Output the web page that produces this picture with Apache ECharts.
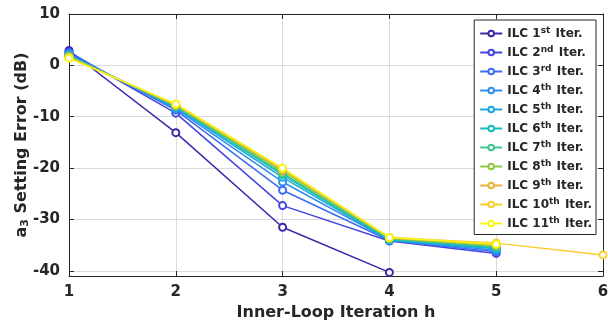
<!DOCTYPE html>
<html><head><meta charset="utf-8">
<script src="https://cdn.jsdelivr.net/npm/echarts@6/dist/echarts.min.js"></script>
<style>html,body{margin:0;padding:0;background:#fff}#c{width:608px;height:322px}</style>
</head><body><div id="c"></div>
<script>
var hValues = [1, 2, 3, 4, 5, 6];
var yTicks = [-40, -30, -20, -10, 0, 10];
var seriesNames = ['1|st', '2|nd', '3|rd', '4|th', '5|th', '6|th', '7|th', '8|th', '9|th', '10|th', '11|th'];
var iter1 = [2.9, -13.1, -31.5, -40.3];
var iter2 = [2.6, -9.3, -27.3, -34.2, -36.6];
var iter3 = [2.4, -8.7, -24.3, -34.1, -36.3];
var iter4 = [2.2, -8.4, -22.7, -34.0, -36.0];
var iter5 = [2.0, -8.2, -21.8, -34.0, -35.7];
var iter6 = [1.9, -8.0, -21.3, -33.9, -35.5];
var iter7 = [1.8, -7.9, -21.0, -33.8, -35.3];
var iter8 = [1.7, -7.8, -20.6, -33.6, -35.1];
var iter9 = [1.6, -7.7, -20.3, -33.6, -34.9];
var iter10 = [1.5, -7.6, -20.1, -33.5, -34.6, -36.9];
var iter11 = [1.4, -7.5, -20.0, -33.5, -34.8];
var allIters = [iter1, iter2, iter3, iter4, iter5, iter6, iter7, iter8, iter9, iter10, iter11];
var colors = ['#3e26a8', '#4545e0', '#3a6cf6', '#2c8ff0', '#1ba9dd', '#14bdbb', '#3cc88c', '#8fc940', '#eab23a', '#f9cd30', '#f7f514'];

var FONT = 'DejaVu Sans';
var AX = '#262626';
var series = allIters.map(function (arr, i) {
  var p = seriesNames[i].split('|');
  return {
    name: 'ILC ' + p[0] + '{s|' + p[1] + '} Iter.',
    type: 'line',
    data: arr.map(function (v, j) { return [hValues[j], v]; }),
    symbol: 'emptyCircle',
    symbolSize: 7,
    color: colors[i],
    lineStyle: { width: 1.5 },
    itemStyle: { borderWidth: 1.5 },
    animation: false
  };
});
var chart = echarts.init(document.getElementById('c'), null, { renderer: 'canvas' });
var yMin = -41, yMax = 10;
chart.setOption({
  animation: false,
  grid: { left: 69, right: 5, top: 14, bottom: 46, containLabel: false, outerBoundsMode: 'none' },
  legend: {
    orient: 'vertical', right: 12, top: 20,
    backgroundColor: '#fff', borderColor: '#262626', borderWidth: 1,
    padding: [6, 4, 5, 5],
    itemWidth: 22, itemHeight: 7, itemGap: 5.5,
    formatter: function (n) { return '{m|' + n.replace(/\{s\|(\w+)\}/, '}{s|$1}{m|') + '}'; },
    textStyle: {
      fontFamily: FONT, fontWeight: 'bold', fontSize: 12, color: AX,
      rich: {
        m: { fontFamily: FONT, fontWeight: 'bold', fontSize: 12, color: AX, height: 15 },
        s: { fontFamily: FONT, fontWeight: 'bold', fontSize: 9, color: AX, verticalAlign: 'top', padding: [0, 1, 6, 0] }
      }
    }
  },
  xAxis: [{
    type: 'value', min: 1, max: 6, interval: 1, position: 'bottom',
    name: 'Inner-Loop Iteration h', nameLocation: 'middle', nameGap: 29,
    nameTextStyle: { fontFamily: FONT, fontWeight: 'bold', fontSize: 16, color: AX },
    axisLine: { onZero: false, lineStyle: { color: AX, width: 1 } },
    axisTick: { inside: true, length: 5, lineStyle: { color: AX } },
    axisLabel: { fontFamily: FONT, fontWeight: 'bold', fontSize: 15, color: AX, margin: 9 },
    splitLine: { show: true, lineStyle: { color: '#dcdcdc', width: 1 } }
  }, {
    type: 'value', min: 1, max: 6, interval: 1, position: 'top',
    axisLine: { onZero: false, lineStyle: { color: AX, width: 1 } },
    axisTick: { inside: true, length: 5, lineStyle: { color: AX } },
    axisLabel: { show: false }, splitLine: { show: false }
  }],
  yAxis: [{
    type: 'value', min: yMin, max: yMax, position: 'left',
    name: '{m|a}{sub|3}{m| Setting Error (dB)}', nameLocation: 'middle', nameGap: 38,
    nameMoveOverlap: false,
    nameTextStyle: {
      fontFamily: FONT, fontWeight: 'bold', fontSize: 16, color: AX,
      rich: {
        m: { fontFamily: FONT, fontWeight: 'bold', fontSize: 16, color: AX },
        sub: { fontFamily: FONT, fontWeight: 'bold', fontSize: 11, color: AX, verticalAlign: 'bottom', padding: [7, 0, 0, 0] }
      }
    },
    axisLine: { show: true, onZero: false, lineStyle: { color: AX, width: 1 } },
    axisTick: { show: true, inside: true, length: 5, lineStyle: { color: AX }, customValues: yTicks },
    axisLabel: { fontFamily: FONT, fontWeight: 'bold', fontSize: 15, color: AX, margin: 9, customValues: yTicks },
    splitLine: { show: true, lineStyle: { color: '#dcdcdc', width: 1 } }
  }, {
    type: 'value', min: yMin, max: yMax, position: 'right',
    axisLine: { show: true, onZero: false, lineStyle: { color: AX, width: 1 } },
    axisTick: { show: true, inside: true, length: 5, lineStyle: { color: AX }, customValues: yTicks },
    axisLabel: { show: false }, splitLine: { show: false }
  }],
  series: series
});
</script></body></html>
